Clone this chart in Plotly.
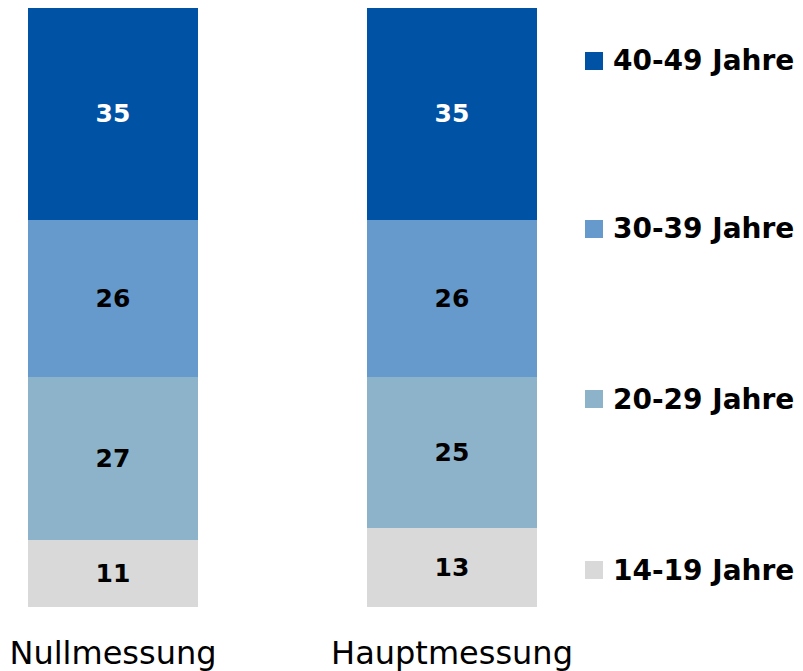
import plotly.graph_objects as go

categories = ["Nullmessung", "Hauptmessung"]
series_names = ["14-19 Jahre", "20-29 Jahre", "30-39 Jahre", "40-49 Jahre"]
values_14_19 = [11, 13]
values_20_29 = [27, 25]
values_30_39 = [26, 26]
values_40_49 = [35, 35]
series_values = [values_14_19, values_20_29, values_30_39, values_40_49]
colors = ["#D9D9D9", "#8DB3CB", "#6699CC", "#0052A5"]
text_colors = ["#000000", "#000000", "#000000", "#FFFFFF"]

W, H = 803, 671
ML, MR, MT, MB = 0, 238, 8, 64
PW, PH = W - ML - MR, H - MT - MB

def px_to_paper_x(px):
    return (px - ML) / PW

def px_to_paper_y(py):
    return (H - MB - py) / PH

fig = go.Figure()
for i, (name, vals) in enumerate(zip(series_names, series_values)):
    fig.add_trace(go.Bar(
        x=categories, y=vals, name=name,
        marker=dict(color=colors[i], line=dict(width=0)),
        width=0.5,
        text=[str(v) for v in vals],
        textposition="inside",
        insidetextanchor="middle",
        textangle=0,
        textfont=dict(family="DejaVu Sans", size=25, color=text_colors[i], weight="bold"),
        showlegend=False,
        hoverinfo="x+y+name",
    ))

# Legend (drawn as shapes + text), top item = oldest age group last
legend_centers_px = {"40-49 Jahre": 61, "30-39 Jahre": 229, "20-29 Jahre": 399, "14-19 Jahre": 570}
sq = 18
sq_left = 585
for name, col in zip(series_names, colors):
    cy = legend_centers_px[name]
    fig.add_shape(type="rect", xref="paper", yref="paper",
                  x0=px_to_paper_x(sq_left), x1=px_to_paper_x(sq_left + sq),
                  y0=px_to_paper_y(cy + sq / 2), y1=px_to_paper_y(cy - sq / 2),
                  fillcolor=col, line=dict(width=0))
    fig.add_annotation(xref="paper", yref="paper",
                       x=px_to_paper_x(611), y=px_to_paper_y(cy),
                       xanchor="left", yanchor="middle", showarrow=False,
                       text=name,
                       font=dict(family="DejaVu Sans", size=28, color="#000000", weight="bold"))

fig.update_layout(
    barmode="stack",
    width=W, height=H,
    margin=dict(l=ML, r=MR, t=MT, b=MB),
    paper_bgcolor="white", plot_bgcolor="white",
    showlegend=False,
    xaxis=dict(range=[-0.3333, 1.3333], showgrid=False, zeroline=False, showline=False,
               ticks="", tickfont=dict(family="DejaVu Sans", size=32, color="#000000"),
               ticklabelstandoff=24),
    yaxis=dict(range=[0, 99], visible=False),
    uniformtext=dict(minsize=10, mode="show"),
)

fig.write_html("out.html")
